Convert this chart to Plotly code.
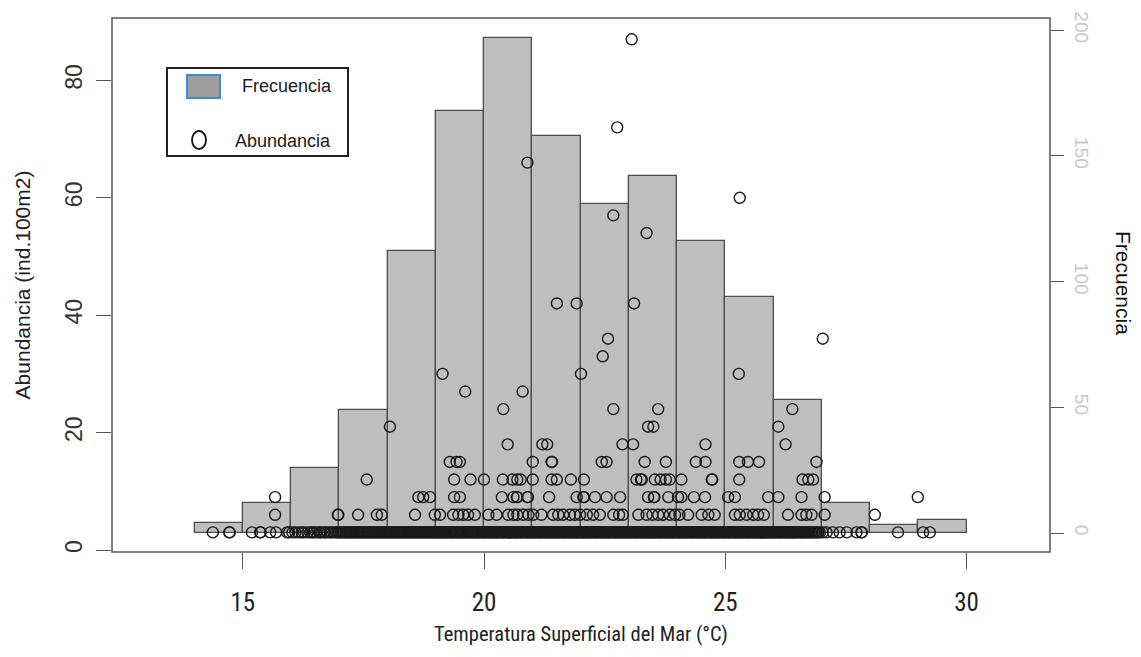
import plotly.graph_objects as go

# ---------------- data ----------------
bin_left = [14, 15, 16, 17, 18, 19, 20, 21, 22, 23, 24, 25, 26, 27, 28, 29]
freq = [4, 12, 26, 49, 112, 168, 197, 158, 131, 142, 116, 94, 53, 12, 3, 5]

# abundance = 3 (dense row along the bottom, read as two interleaved passes)
t_ab3 = [14.38, 14.72, 14.73, 15.19, 15.36, 15.37, 15.57, 15.69, 15.92,
         15.96, 16.03, 16.09, 16.16, 16.22, 16.27, 16.34, 16.40, 16.45, 16.52, 16.58, 16.63, 16.69, 16.76, 16.81, 16.88, 16.93, 16.99,
         17.04, 17.10, 17.15, 17.21, 17.26, 17.31, 17.37, 17.42, 17.47, 17.53, 17.58, 17.63, 17.68, 17.73, 17.79, 17.84, 17.89, 17.94, 17.98,
         18.03, 18.07, 18.12, 18.17, 18.21, 18.26, 18.30, 18.35, 18.40, 18.44, 18.49, 18.53, 18.58, 18.62, 18.67, 18.71, 18.76, 18.80, 18.85, 18.89, 18.94, 18.98,
         19.02, 19.07, 19.11, 19.15, 19.20, 19.24, 19.29, 19.33, 19.37, 19.42, 19.46, 19.51, 19.55, 19.59, 19.64, 19.68, 19.73, 19.77, 19.81, 19.86, 19.90, 19.95, 19.99,
         20.03, 20.08, 20.12, 20.16, 20.21, 20.25, 20.29, 20.34, 20.38, 20.42, 20.47, 20.51, 20.55, 20.60, 20.64, 20.68, 20.73, 20.77, 20.81, 20.86, 20.90, 20.94, 20.99,
         21.03, 21.07, 21.12, 21.16, 21.20, 21.25, 21.29, 21.33, 21.38, 21.42, 21.46, 21.51, 21.55, 21.59, 21.64, 21.68, 21.72, 21.77, 21.81, 21.85, 21.90, 21.94, 21.98,
         22.03, 22.07, 22.11, 22.16, 22.20, 22.24, 22.29, 22.33, 22.37, 22.42, 22.46, 22.50, 22.55, 22.59, 22.63, 22.68, 22.72, 22.76, 22.81, 22.85, 22.89, 22.94, 22.98,
         23.02, 23.06, 23.11, 23.15, 23.19, 23.24, 23.28, 23.32, 23.37, 23.41, 23.45, 23.50, 23.54, 23.58, 23.63, 23.67, 23.71, 23.76, 23.80, 23.84, 23.89, 23.93, 23.97,
         24.02, 24.06, 24.10, 24.15, 24.19, 24.23, 24.28, 24.32, 24.36, 24.41, 24.45, 24.49, 24.54, 24.58, 24.62, 24.67, 24.71, 24.75, 24.80, 24.84, 24.88, 24.93, 24.97,
         25.01, 25.06, 25.10, 25.14, 25.19, 25.23, 25.27, 25.32, 25.36, 25.40, 25.45, 25.49, 25.53, 25.58, 25.62, 25.66, 25.71, 25.75, 25.79, 25.84, 25.88, 25.92, 25.97,
         26.01, 26.05, 26.10, 26.14, 26.18, 26.23, 26.27, 26.31, 26.36, 26.40, 26.44, 26.49, 26.54, 26.59, 26.64, 26.70, 26.75, 26.81, 26.87, 26.93,
         27.02, 27.10, 27.23, 27.37, 27.52, 27.72, 27.82, 27.83, 28.58, 29.10, 29.24]
t_ab3_b = [16.47, 16.60, 16.71, 16.84, 16.96,
           17.02, 17.07, 17.13, 17.18, 17.23, 17.28, 17.34, 17.39, 17.45, 17.50, 17.56, 17.61, 17.66, 17.71, 17.76, 17.81, 17.86, 17.91, 17.96,
           18.01, 18.05, 18.10, 18.14, 18.19, 18.24, 18.28, 18.33, 18.37, 18.42, 18.47, 18.51, 18.56, 18.60, 18.65, 18.69, 18.74, 18.78, 18.83, 18.87, 18.92, 18.96,
           19.00, 19.05, 19.09, 19.13, 19.18, 19.22, 19.27, 19.31, 19.35, 19.40, 19.44, 19.49, 19.53, 19.57, 19.62, 19.66, 19.71, 19.75, 19.79, 19.84, 19.88, 19.93, 19.97,
           20.01, 20.05, 20.10, 20.14, 20.18, 20.23, 20.27, 20.31, 20.36, 20.40, 20.44, 20.49, 20.53, 20.57, 20.62, 20.66, 20.70, 20.75, 20.79, 20.83, 20.88, 20.92, 20.96,
           21.01, 21.05, 21.10, 21.14, 21.18, 21.23, 21.27, 21.31, 21.36, 21.40, 21.44, 21.49, 21.53, 21.57, 21.62, 21.66, 21.70, 21.75, 21.79, 21.83, 21.88, 21.92, 21.96,
           22.01, 22.05, 22.09, 22.14, 22.18, 22.22, 22.27, 22.31, 22.35, 22.40, 22.44, 22.48, 22.53, 22.57, 22.61, 22.66, 22.70, 22.74, 22.79, 22.83, 22.87, 22.92, 22.96,
           23.00, 23.04, 23.09, 23.13, 23.17, 23.22, 23.26, 23.30, 23.35, 23.39, 23.43, 23.48, 23.52, 23.56, 23.61, 23.65, 23.69, 23.74, 23.78, 23.82, 23.87, 23.91, 23.95,
           24.00, 24.04, 24.08, 24.13, 24.17, 24.21, 24.26, 24.30, 24.34, 24.39, 24.43, 24.47, 24.52, 24.56, 24.60, 24.65, 24.69, 24.73, 24.78, 24.82, 24.86, 24.91, 24.95,
           24.99, 25.04, 25.08, 25.12, 25.17, 25.21, 25.25, 25.30, 25.34, 25.38, 25.43, 25.47, 25.51, 25.56, 25.60, 25.64, 25.69, 25.73, 25.77, 25.82, 25.86, 25.90, 25.95,
           25.99, 26.03, 26.08, 26.12, 26.16, 26.21, 26.25, 26.29, 26.34, 26.38, 26.42, 26.47, 26.52, 26.57, 26.62, 26.67, 26.73, 26.78, 26.84, 26.90, 26.96]
t_ab6 = [15.67, 16.97, 16.98, 17.39, 17.78, 17.88, 18.57, 18.98, 19.09, 19.36, 19.47, 19.57, 19.67,
         19.81, 20.09, 20.26, 20.50, 20.61, 20.69, 20.81, 20.92, 21.02, 21.19, 21.43, 21.54, 21.64,
         21.78, 21.88, 21.99, 22.13, 22.26, 22.40, 22.68, 22.80, 22.88, 23.20, 23.37, 23.49, 23.61,
         23.71, 23.85, 23.96, 24.05, 24.23, 24.51, 24.65, 24.78, 25.20, 25.30, 25.44, 25.58, 25.68,
         25.80, 26.30, 26.58, 26.68, 26.79, 27.06, 28.10]
t_ab9 = [15.67, 18.64, 18.74, 18.88, 19.38, 19.50, 20.37, 20.61, 20.68, 20.69, 20.90, 20.91, 21.35,
         21.92, 22.06, 22.07, 22.30, 22.54, 22.82, 23.40, 23.52, 23.53, 23.82, 24.02, 24.09, 24.35,
         24.58, 25.06, 25.20, 25.89, 26.10, 26.58, 27.06, 28.99]
t_ab12 = [17.57, 19.38, 19.72, 20.00, 20.39, 20.59, 20.69, 20.76, 21.01, 21.40, 21.51, 21.80, 22.07,
          23.16, 23.25, 23.27, 23.54, 23.66, 23.77, 23.85, 24.09, 24.72, 24.73, 25.29, 26.60, 26.72,
          26.82]
t_ab15 = [19.29, 19.43, 19.50, 21.01, 21.40, 21.41, 22.44, 22.54, 23.33, 23.77, 24.39, 24.59, 25.29,
          25.47, 25.70, 26.89]
t_ab18 = [20.49, 21.21, 21.31, 22.87, 23.09, 24.59, 26.25]
t_ab21 = [18.05, 23.40, 23.51, 26.10]
t_ab24 = [20.40, 22.68, 23.61, 26.39]
t_ab27 = [19.61, 20.80]
t_ab30 = [19.14, 22.01, 25.28]
t_high = [22.46, 22.57, 27.02, 21.51, 21.92, 23.11, 23.37, 22.68, 25.30, 20.90, 22.76, 23.06]
ab_high = [33, 36, 36, 42, 42, 42, 54, 57, 60, 66, 72, 87]

xticks = [15, 20, 25, 30]
yticks_abund = [0, 20, 40, 60, 80]
yticks_freq = [0, 50, 100, 150, 200]

# ---------------- build ----------------
rows = [(3, t_ab3), (3, t_ab3_b), (6, t_ab6), (9, t_ab9), (12, t_ab12), (15, t_ab15),
        (18, t_ab18), (21, t_ab21), (24, t_ab24), (27, t_ab27), (30, t_ab30)]
px_, py_ = [], []
for ab, ts in rows:
    px_ += ts
    py_ += [ab] * len(ts)
px_ += t_high
py_ += ab_high

centers = [b + 0.5 for b in bin_left]

W, H = 1141, 657
L, R, T, B = 112, 1050, 18, 552


def xp(p):
    return (p - L) / (R - L)


def yp(p):
    return (B - p) / (B - T)


fig = go.Figure()
fig.add_trace(go.Bar(x=centers, y=freq, width=1, yaxis="y",
                     marker=dict(color="#bebebe", line=dict(color="#4d4d4d", width=1.3)),
                     hoverinfo="skip"))
fig.add_trace(go.Scatter(x=px_, y=py_, mode="markers", yaxis="y2",
                         marker=dict(symbol="circle-open", size=11, color="#1a1a1a",
                                     line=dict(width=1.4))))

NARROW = "Liberation Sans Narrow, Arial Narrow, Roboto Condensed, Liberation Sans"
fig.update_layout(
    width=W, height=H, autosize=False,
    margin=dict(l=L, r=W - R, t=T, b=H - B, pad=0),
    paper_bgcolor="white", plot_bgcolor="white",
    showlegend=False, bargap=0,
    xaxis=dict(range=[12.29, 31.73], tickvals=xticks, ticks="outside", ticklen=16,
               tickwidth=1.3, tickcolor="#555", showgrid=False, zeroline=False, showline=False,
               tickfont=dict(family=NARROW, size=25, color="#222"),
               ticklabelstandoff=12,
               title=dict(text="Temperatura Superficial del Mar (°C)", standoff=10,
                          font=dict(family=NARROW, size=20.5, color="#222"))),
    yaxis=dict(range=[-7.55, 204.8], side="right", tickvals=yticks_freq, ticks="outside", ticklen=13,
               tickwidth=1.3, tickcolor="#555", tickangle=90, showgrid=False, zeroline=False, showline=False,
               ticklabelstandoff=3,
               tickfont=dict(family="Liberation Sans", size=19, color="#c8c8c8")),
    yaxis2=dict(range=[-0.34, 90.63], overlaying="y", side="left", tickvals=yticks_abund, ticks="outside",
                ticklen=15, tickwidth=1.3, tickcolor="#555", tickangle=-90, showgrid=False, zeroline=False,
                showline=False, ticklabelstandoff=5,
                tickfont=dict(family="Liberation Sans", size=23, color="#333"),
                title=dict(text="Abundancia (ind.100m2)", standoff=24,
                           font=dict(family="Liberation Sans", size=21, color="#222"))),
)

shapes = [
    dict(type="rect", xref="paper", yref="paper", x0=0, x1=1, y0=0, y1=1,
         line=dict(color="#555", width=1.5), fillcolor="rgba(0,0,0,0)", layer="above"),
    # legend
    dict(type="rect", xref="paper", yref="paper", x0=xp(167), x1=xp(348), y0=yp(156), y1=yp(68),
         line=dict(color="#222", width=2), fillcolor="white", layer="above"),
    dict(type="rect", xref="paper", yref="paper", x0=xp(187), x1=xp(220), y0=yp(98), y1=yp(75),
         line=dict(color="#3b8ed4", width=2), fillcolor="#9e9e9e", layer="above"),
    dict(type="circle", xref="paper", yref="paper", x0=xp(192), x1=xp(206), y0=yp(149), y1=yp(131),
         line=dict(color="#111", width=1.8), fillcolor="rgba(0,0,0,0)", layer="above"),
]
annotations = [
    dict(text="Frecuencia", xref="paper", yref="paper", x=xp(287), y=yp(86), showarrow=False,
         font=dict(family="Liberation Sans", size=18, color="#1a1a1a"), xanchor="center", yanchor="middle"),
    dict(text="Abundancia", xref="paper", yref="paper", x=xp(283), y=yp(141), showarrow=False,
         font=dict(family="Liberation Sans", size=18, color="#1a1a1a"), xanchor="center", yanchor="middle"),
    dict(text="Frecuencia", xref="paper", yref="paper", x=xp(1124), y=yp(283), showarrow=False,
         textangle=90, font=dict(family="Liberation Sans", size=21, color="#111"),
         xanchor="center", yanchor="middle"),
]
fig.update_layout(shapes=shapes, annotations=annotations)

fig.write_html("out.html")
